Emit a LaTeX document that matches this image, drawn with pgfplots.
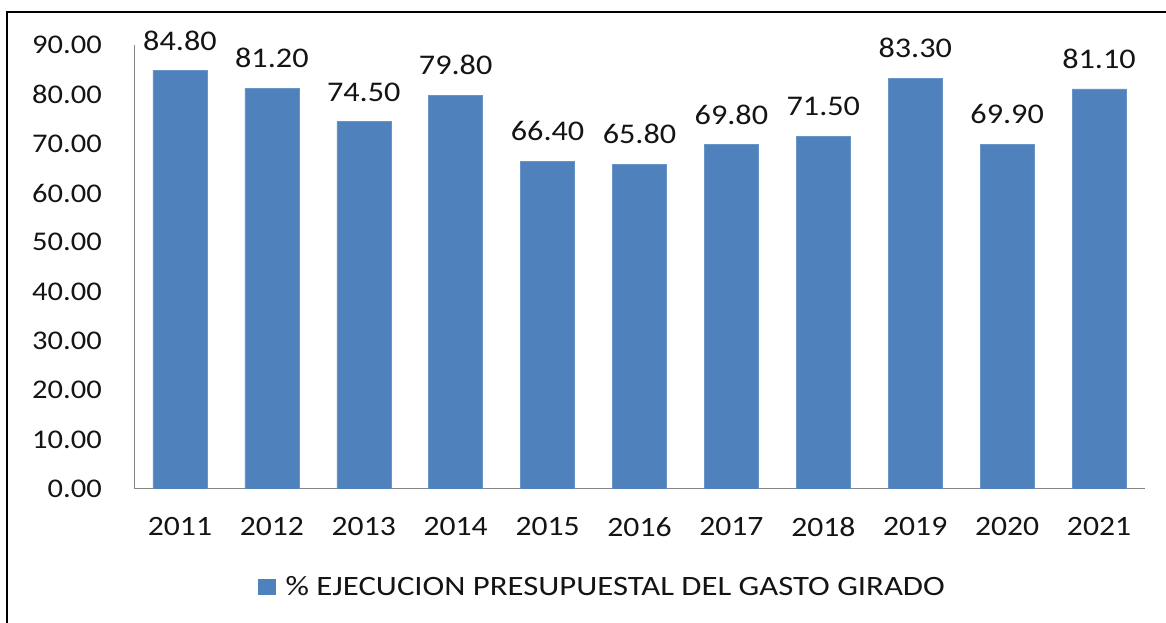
\documentclass[border=0pt]{standalone}
\usepackage{fontspec}
\setmainfont{Carlito}[FakeStretch=1.13]
\newfontfamily\legfont{Carlito}[FakeStretch=1.17]
\usepackage{pgfplots}
\pgfplotsset{compat=1.18}
\definecolor{barblue}{RGB}{79,129,189}
\definecolor{axgray}{RGB}{134,134,134}
\definecolor{txt}{RGB}{20,20,20}
\begin{document}
\begin{tikzpicture}[x=1pt,y=1pt]
\path[use as bounding box] (0,0) rectangle (1166,623);
\draw[black, line width=2.2pt] (7,0) -- (7,611) -- (1166,611);
\begin{axis}[
  at={(134pt,134pt)}, anchor=south west,
  scale only axis, width=1011pt, height=444pt,
  ybar, bar width=54pt, bar shift=0pt,
  xmin=-0.5, xmax=10.5, ymin=0, ymax=90,
  axis lines*=left,
  axis line style={draw=axgray, line width=1pt},
  major tick length=0pt,
  xtick=data,
  xticklabels={2011,2012,2013,2014,2015,2016,2017,2018,2019,2020,2021},
  ytick={0,10,...,90},
  /pgf/number format/fixed, /pgf/number format/fixed zerofill, /pgf/number format/precision=2,
  /pgf/number format/assume math mode=true,
  yticklabel style={font=\fontsize{27}{32}\selectfont, text=txt, inner sep=0pt, anchor=east, xshift=-32pt},
  xticklabel style={font=\fontsize{28}{33}\selectfont, text=txt, inner sep=0pt, anchor=north, yshift=-28pt},
  nodes near coords,
  nodes near coords style={font=\fontsize{28.5}{33}\selectfont, text=txt, inner sep=0pt, anchor=south, yshift=20pt},
  legend style={at={(0.1227,-0.2207)}, anchor=west, draw=none, fill=none, inner sep=0pt,
    font=\legfont\fontsize{28}{33}\selectfont, text=txt,
    nodes={inner sep=0pt}, /tikz/every odd column/.style={column sep=10pt}},
  legend image code/.code={\fill[barblue] (0pt,-7pt) rectangle (17pt,7.5pt);},
]
\addplot[fill=barblue, draw=barblue!85!white] coordinates {
(0,84.8) (1,81.2) (2,74.5) (3,79.8) (4,66.4) (5,65.8) (6,69.8) (7,71.5) (8,83.3) (9,69.9) (10,81.1)};
\addlegendentry{\% EJECUCION PRESUPUESTAL DEL GASTO GIRADO}
\end{axis}
\end{tikzpicture}
\end{document}
